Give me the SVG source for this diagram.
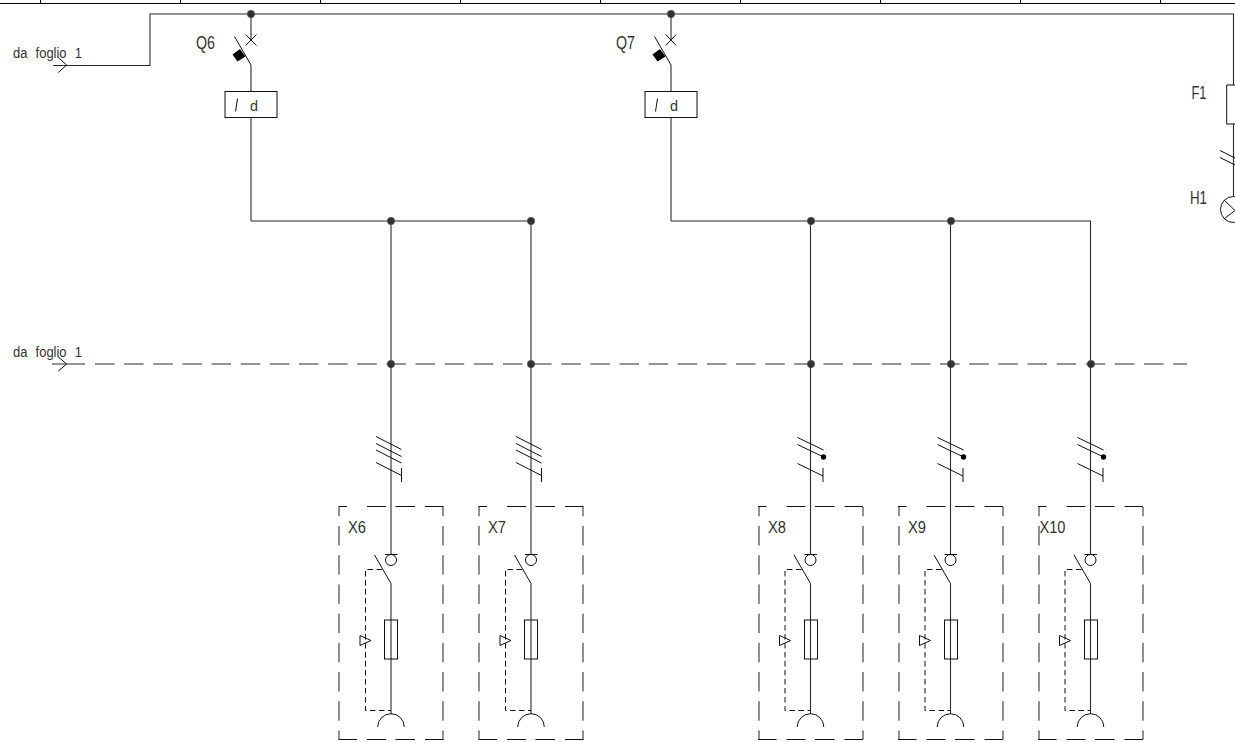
<svg xmlns="http://www.w3.org/2000/svg" width="1235" height="742" viewBox="0 0 1235 742">
<style>
.w{fill:none;stroke:#2a2a2a;stroke-width:1.100}
.t{fill:none;stroke:#111;stroke-width:1}
.dv{fill:none;stroke:#222;stroke-width:1;stroke-dasharray:19.500 9.700;stroke-dashoffset:10.200}
.dh{fill:none;stroke:#111;stroke-width:1}
.sd{fill:none;stroke:#111;stroke-width:1;stroke-dasharray:5.500 3.500}
.j{fill:#333;stroke:#555;stroke-width:.6}
text{font-family:"Liberation Sans",Arial,sans-serif;fill:#333;font-size:15px}
</style>
<defs>
<g id="feeder">
<path class="dh" d="M-52.500 142.500H-44M-24 142.500H-5M4.500 142.500H24M34 142.500H52.500M-52.500 375.500H-34M-24 375.500H-5M4.500 375.500H24M34 375.500H52.500"/>
<path class="w" d="M0 0V190.500M0 219.500V350"/>
<circle class="t" cx="0" cy="196" r="5.500"/>
<path class="t" d="M-6 190.500H6.500M-16.500 191L0 219.500"/>
<path class="sd" d="M-9 205.500H-25.500V346.500H0"/>
<path class="t" d="M-31 271.500V281.500L-20 276.500Z"/>
<path class="t" d="M-13.300 363A13.300 13.300 0 0 1 13.300 363"/>
</g>
<g id="three">
<path class="dv" d="M-52 143V375.500M52 143V375.500"/>
<rect class="t" x="-6.500" y="256" width="13" height="39"/>
<path class="t" d="M-15 72.500L10.500 85.500M-15 79.500L10.500 92.500M-15 86L10.500 99M-15 98.500L10.500 111.500V118M10.500 104V111.500"/>
</g>
<g id="two">
<path class="dv" d="M-51.500 143V375.500M52.500 143V375.500"/>
<rect class="t" x="-6" y="256" width="13" height="39"/>
<path class="t" d="M-13 73.500L13 86M-13 80.500L13 93M-13 99.500L12.500 112V118M12.500 104V112"/>
<circle cx="13" cy="93" r="2.700" fill="#000"/>
</g>
<g id="breaker">
<path class="w" d="M0 0V26M0 51V77"/>
<path class="t" d="M-5.300 20.500L5.300 31.500M5.300 20.500L-5.300 31.500M-16.500 22.500L0 51"/>
<path d="M-18.500 40.500L-13.500 47.500L-5.500 42.500L-11 35Z" fill="#000"/>
<rect class="t" x="-26" y="77.500" width="52" height="26"/>
<path class="t" d="M-15.500 97.500L-13.500 84.500"/>
<path class="w" d="M0 103.500V207"/>
</g>
</defs>
<g id="frame">
<path d="M0 3.500H1235M40.500 0V3M180.500 0V3M320.500 0V3M460.500 0V3M600.500 0V3M740.500 0V3M880.500 0V3M1020.500 0V3M1160.500 0V3" fill="none" stroke="#000" stroke-width="1"/>
</g>
<g id="connectors">
<path class="w" d="M53 65.500H150V14H1233.500V85"/>
<path class="t" d="M58.300 57.500L66.700 65L58.300 72.500"/>
<path class="w" d="M251 221H531M671 221H1090.500V364"/>
<path class="w" d="M391 221V364M531 221V364M810.500 221V364M950.500 221V364"/>
<path d="M52 364H85" fill="none" stroke="#2a2a2a" stroke-width="1.100"/>
<path d="M95 364H1187" fill="none" stroke="#2a2a2a" stroke-width="1.100" stroke-dasharray="19.500 9.640"/>
<path class="t" d="M58.300 357L66.700 364L58.300 371"/>
</g>
<g id="dots">
<circle class="j" cx="251" cy="14" r="3.700"/><circle class="j" cx="671" cy="14" r="3.700"/>
<circle class="j" cx="391" cy="221" r="3.700"/><circle class="j" cx="531" cy="221" r="3.700"/><circle class="j" cx="811" cy="221" r="3.700"/><circle class="j" cx="951" cy="221" r="3.700"/>
<circle class="j" cx="391" cy="364" r="3.700"/><circle class="j" cx="531" cy="364" r="3.700"/><circle class="j" cx="811" cy="364" r="3.700"/><circle class="j" cx="951" cy="364" r="3.700"/><circle class="j" cx="1091" cy="364" r="3.700"/>
</g>
<g id="Q6"><use href="#breaker" x="251" y="14"/>
<text x="196" y="49" style="font-size:18px" textLength="19" lengthAdjust="spacingAndGlyphs">Q6</text>
<text x="250" y="111" style="font-size:15px" textLength="8" lengthAdjust="spacingAndGlyphs">d</text></g>
<g id="Q7"><use href="#breaker" x="671" y="14"/>
<text x="616" y="49" style="font-size:18px" textLength="19" lengthAdjust="spacingAndGlyphs">Q7</text>
<text x="670" y="111" style="font-size:15px" textLength="8" lengthAdjust="spacingAndGlyphs">d</text></g>
<g id="F1-H1">
<path class="t" d="M1235 85H1226.700V124H1235"/>
<path class="w" d="M1233.500 124V196"/>
<path class="t" d="M1220 150.500L1235 158M1220 157.500L1235 165"/>
<circle class="t" cx="1233.500" cy="209.500" r="13"/>
<path class="t" d="M1224 200L1235 210.500L1224 219"/>
<text x="1191.500" y="99" style="font-size:18px" textLength="15" lengthAdjust="spacingAndGlyphs">F1</text>
<text x="1190" y="204" style="font-size:18px" textLength="17" lengthAdjust="spacingAndGlyphs">H1</text>
</g>
<g id="X6"><use href="#feeder" x="391" y="364"/><use href="#three" x="391" y="364"/>
<text x="348" y="533" style="font-size:16px" textLength="18" lengthAdjust="spacingAndGlyphs">X6</text></g>
<g id="X7"><use href="#feeder" x="531" y="364"/><use href="#three" x="531" y="364"/>
<text x="488" y="533" style="font-size:16px" textLength="18" lengthAdjust="spacingAndGlyphs">X7</text></g>
<g id="X8"><use href="#feeder" x="810.500" y="364"/><use href="#two" x="810.500" y="364"/>
<text x="768" y="533" style="font-size:16px" textLength="18" lengthAdjust="spacingAndGlyphs">X8</text></g>
<g id="X9"><use href="#feeder" x="950.500" y="364"/><use href="#two" x="950.500" y="364"/>
<text x="908" y="533" style="font-size:16px" textLength="18" lengthAdjust="spacingAndGlyphs">X9</text></g>
<g id="X10"><use href="#feeder" x="1090.500" y="364"/><use href="#two" x="1090.500" y="364"/>
<text x="1039.500" y="533" style="font-size:16px" textLength="26" lengthAdjust="spacingAndGlyphs">X10</text></g>
<g id="labels">
<text x="13" y="58" style="font-size:14px;word-spacing:5px" textLength="69" lengthAdjust="spacingAndGlyphs">da foglio 1</text>
<text x="13" y="357" style="font-size:14px;word-spacing:5px" textLength="69" lengthAdjust="spacingAndGlyphs">da foglio 1</text>
</g>
</svg>
